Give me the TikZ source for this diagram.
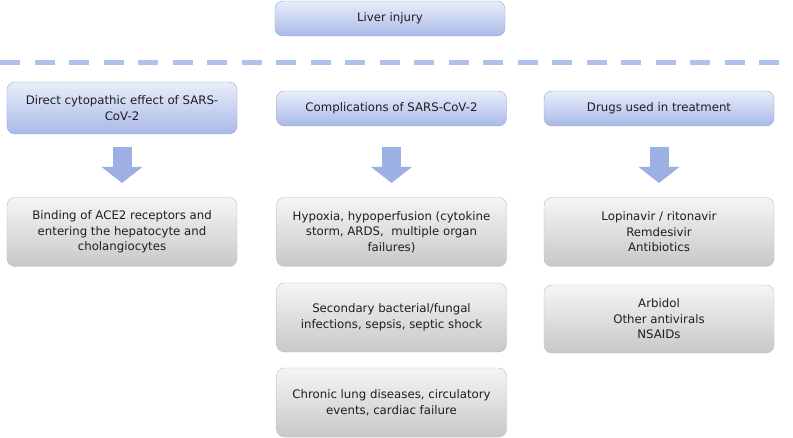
\documentclass[tikz,border=0pt]{standalone}
\usepackage{fontspec}
\setmainfont{DejaVu Sans}
\usetikzlibrary{arrows.meta}
\definecolor{headtop}{HTML}{E9EEFA}
\definecolor{headbot}{HTML}{A9B9E8}
\definecolor{headline}{HTML}{93A6DC}
\definecolor{graytop}{HTML}{F5F5F5}
\definecolor{graybot}{HTML}{C8C8C8}
\definecolor{grayline}{HTML}{BDBDBD}
\definecolor{flowblue}{HTML}{9CB0E3}
\definecolor{dashblue}{HTML}{AFC1EA}
\definecolor{inktext}{HTML}{1E1E1E}
\begin{document}
\begin{tikzpicture}[x=1bp,y=-1bp]
		\tikzstyle{every node}+=[inner sep=0pt, align=center, text=inktext, font=\fontsize{11.8}{15.6}\selectfont]
		\tikzstyle{headbox}=[draw=headline, rounded corners=8bp, top color=headtop, bottom color=headbot, minimum width=230bp]
		\tikzstyle{itembox}=[draw=grayline, rounded corners=8bp, top color=graytop, bottom color=graybot, minimum width=230bp, minimum height=69bp]
		\tikzstyle{flow}=[draw=flowblue, line width=19bp, -{Triangle[length=16bp,width=40bp]}]
		\useasboundingbox (0,0) rectangle (793,438);
		% top box and separator
		\node [headbox, minimum height=35bp] (injury) at (390,18.5) {Liver injury};
		\draw [dashblue, line width=5bp, dash pattern=on 20bp off 14.5bp] (0,63) -- (793,63);
		% column headers
		\node [headbox, minimum height=52bp] (hA) at (122,108) {Direct cytopathic effect of SARS-\\CoV-2};
		\node [headbox, minimum height=35bp] (hB) at (391.5,108.5) {Complications of SARS-CoV-2};
		\node [headbox, minimum height=35bp] (hC) at (659,108.5) {Drugs used in treatment};
		% items
		\node [itembox] (bA1) at (122,232) {Binding of ACE2 receptors and\\entering the hepatocyte and\\cholangiocytes};
		\node [itembox] (bB1) at (391.5,232) {Hypoxia, hypoperfusion (cytokine\\storm, ARDS,\ \ multiple organ\\failures)};
		\node [itembox] (bB2) at (391.5,317.5) {Secondary bacterial/fungal\\infections, sepsis, septic shock};
		\node [itembox] (bB3) at (391.5,402.5) {Chronic lung diseases, circulatory\\events, cardiac failure};
		\node [itembox] (bC1) at (659,232) {Lopinavir / ritonavir\\Remdesivir\\Antibiotics};
		\node [itembox, minimum height=68bp] (bC2) at (659,319) {Arbidol\\Other antivirals\\NSAIDs};
		% block arrows
		\coordinate (flowtop) at (0,147);
		\coordinate (flowend) at (0,183);
		\draw [flow] (hA.south |- flowtop) -- (bA1.north |- flowend);
		\draw [flow] (hB.south |- flowtop) -- (bB1.north |- flowend);
		\draw [flow] (hC.south |- flowtop) -- (bC1.north |- flowend);
\end{tikzpicture}
\end{document}
